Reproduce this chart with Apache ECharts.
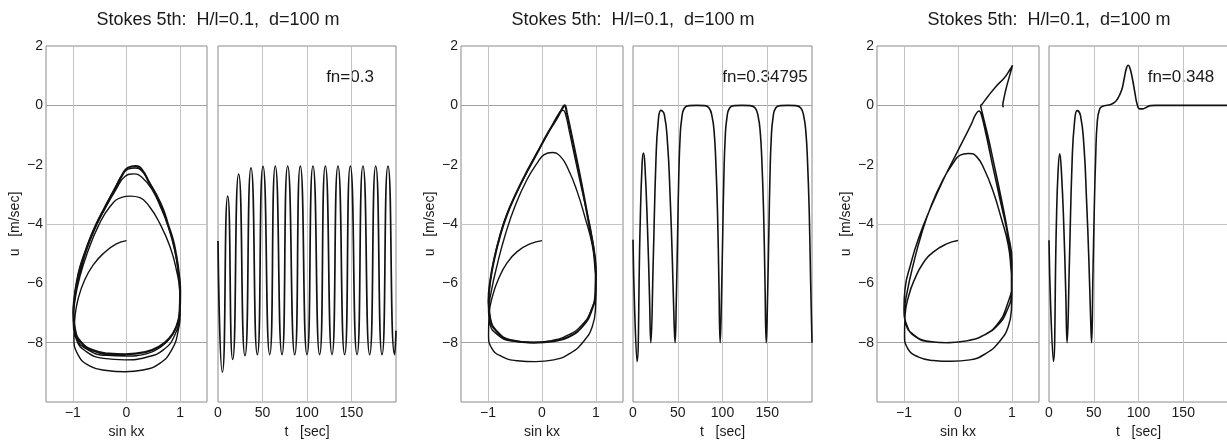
<!DOCTYPE html>
<html><head><meta charset="utf-8">
<script src="https://cdn.jsdelivr.net/npm/echarts@6/dist/echarts.min.js"></script>
<style>html,body{margin:0;padding:0;background:#fff}#c{width:1227px;height:442px}</style>
</head><body><div id="c"></div><script>
// ---------- texts & ticks ----------
const titleText = 'Stokes 5th:  H/l=0.1,  d=100 m';
const fnLabels = ['fn=0.3', 'fn=0.34795', 'fn=0.348'];
const sinTickLabels = [-1, 0, 1];
const uGridValues = [0, -4, -8];
const sinGridValues = [-1, 0, 1];
const tGridValues = [50, 100, 150];

// ---------- panel 1 : fn = 0.3 ----------
const phase1Transient = [[0,-4.56],[-0.19,-4.67],[-0.43,-4.99],[-0.62,-5.38],[-0.78,-5.89],[-0.9,-6.51],[-0.96,-7.12],[-0.98,-7.8],[-0.9,-8.42],[-0.68,-8.79],[-0.37,-8.94],[-0.03,-8.98],[0.31,-8.92],[0.62,-8.7],[0.84,-8.25],[0.96,-7.63],[1.0,-6.9],[0.99,-6.22],[0.93,-5.55],[0.81,-4.76],[0.62,-3.98],[0.43,-3.42],[0.25,-3.11],[0.07,-3.06],[-0.09,-3.1],[-0.31,-3.42],[-0.53,-4.09],[-0.71,-4.88],[-0.87,-5.78],[-0.96,-6.56],[-0.99,-7.24],[-0.93,-7.91],[-0.75,-8.3],[-0.43,-8.53],[-0.03,-8.58],[0.37,-8.49],[0.68,-8.25],[0.9,-7.74],[0.99,-7.01],[1.0,-6.34],[0.97,-5.66],[0.9,-4.9],[0.78,-4.1],[0.64,-3.45],[0.48,-2.85],[0.3,-2.45],[0.14,-2.31],[-0.03,-2.4],[-0.2,-2.85],[-0.42,-3.55],[-0.6,-4.2],[-0.75,-4.9],[-0.88,-5.7],[-0.97,-6.5],[-0.99,-7.2],[-0.93,-7.85],[-0.71,-8.25],[-0.37,-8.43],[0,-8.45],[0.37,-8.38],[0.64,-8.14],[0.82,-7.82],[0.93,-7.45],[0.99,-6.95],[1.0,-6.3],[0.97,-5.62],[0.91,-4.98],[0.85,-4.48],[0.76,-3.98],[0.67,-3.5],[0.54,-2.98],[0.41,-2.55],[0.29,-2.22],[0.16,-2.11],[0.03,-2.15],[-0.1,-2.4],[-0.22,-2.8],[-0.42,-3.5],[-0.6,-4.15],[-0.73,-4.75],[-0.86,-5.45],[-0.93,-6.0],[-0.97,-6.5],[-0.99,-7.0],[-0.96,-7.57],[-0.85,-8.0],[-0.62,-8.28],[-0.33,-8.39],[-0.02,-8.41]];
const phase1Loop = [[-0.02,-8.39],[0.35,-8.32],[0.62,-8.12],[0.8,-7.85],[0.92,-7.5],[0.99,-7.0],[1.0,-6.3],[0.97,-5.6],[0.92,-5.0],[0.86,-4.5],[0.77,-4.0],[0.68,-3.5],[0.55,-3.0],[0.42,-2.6],[0.3,-2.2],[0.17,-2.05],[0.03,-2.1],[-0.08,-2.35],[-0.18,-2.7],[-0.27,-3.0],[-0.42,-3.5],[-0.56,-4.0],[-0.68,-4.5],[-0.78,-5.0],[-0.87,-5.5],[-0.93,-6.0],[-0.97,-6.5],[-0.99,-7.0],[-0.96,-7.55],[-0.85,-7.98],[-0.62,-8.26],[-0.33,-8.37],[-0.02,-8.39]];
const time1 = [[0,-4.57],[4.9,-8.99],[10.9,-3.06],[16.5,-8.56],[23.2,-2.32],[30.3,-8.44],[37.1,-2.11],[44.2,-8.40],[50.6,-2.06],[58.1,-8.40],[64.4,-2.05],[71.9,-8.40],[78.3,-2.05],[86.2,-8.40],[92.5,-2.05],[100,-8.40],[106.7,-2.05],[114.2,-8.40],[120.6,-2.05],[128.1,-8.40],[134.8,-2.05],[142.3,-8.40],[148.7,-2.05],[156.2,-8.40],[162.9,-2.05],[170.4,-8.40],[177.2,-2.05],[184.3,-8.40],[191,-2.05],[198.5,-8.40],[200,-7.6]];

// ---------- panel 2 : fn = 0.34795 ----------
const phase2Transient = [[0,-4.56],[-0.22,-4.67],[-0.46,-4.93],[-0.65,-5.32],[-0.8,-5.83],[-0.91,-6.39],[-0.98,-7.06],[-0.99,-7.74],[-0.93,-8.19],[-0.74,-8.47],[-0.46,-8.61],[-0.12,-8.64],[0.22,-8.58],[0.52,-8.36],[0.77,-7.96],[0.93,-7.46],[0.99,-6.84],[1.0,-6.16],[0.98,-5.49],[0.93,-4.7],[0.8,-3.8],[0.65,-2.9],[0.49,-2.17],[0.34,-1.72],[0.19,-1.59],[0.04,-1.66],[-0.09,-1.95],[-0.28,-2.51],[-0.49,-3.35],[-0.68,-4.36],[-0.83,-5.38],[-0.94,-6.28],[-0.99,-6.95],[-0.96,-7.4],[-0.83,-7.72],[-0.59,-7.94],[-0.22,-8.0],[0.15,-7.94],[0.49,-7.74],[0.74,-7.4],[0.9,-6.95],[0.99,-6.28],[0.99,-5.6],[0.93,-4.48],[0.8,-3.35],[0.65,-2.11],[0.52,-0.99],[0.43,-0.26],[0.39,-0.17],[0.33,-0.22],[0.1,-0.98],[-0.1,-1.62],[-0.31,-2.36],[-0.5,-3.05],[-0.66,-3.72],[-0.78,-4.4],[-0.89,-5.2],[-0.96,-5.95],[-0.99,-6.62],[-0.96,-7.2],[-0.83,-7.64],[-0.59,-7.92],[-0.15,-8.0]];
const phase2Loop = [[-0.15,-8.0],[0.22,-7.95],[0.5,-7.8],[0.75,-7.45],[0.91,-6.95],[0.99,-6.3],[1.0,-5.7],[0.97,-5.0],[0.88,-4.1],[0.77,-3.0],[0.65,-1.9],[0.53,-0.85],[0.46,-0.25],[0.435,-0.03],[0.42,0.0],[0.39,-0.06],[0.28,-0.43],[0.09,-0.99],[-0.09,-1.61],[-0.31,-2.34],[-0.49,-3.01],[-0.65,-3.69],[-0.77,-4.36],[-0.88,-5.15],[-0.96,-5.94],[-0.99,-6.61],[-0.96,-7.18],[-0.83,-7.63],[-0.59,-7.91],[-0.15,-8.0]];
const time2 = [[0,-4.53],[1.9,-6.95],[4.5,-8.64],[7.9,-4.14],[10.2,-1.95],[11.7,-1.61],[13.2,-1.95],[16.2,-4.14],[18.4,-6.39],[19.9,-8.0],[22.6,-5.26],[25.6,-1.89],[28.2,-0.54],[31.2,-0.17],[35.0,-0.31],[38.7,-1.33],[41.4,-3.01],[44.0,-5.26],[45.9,-7.29],[47.0,-8.0],
  [48.5,-6.4],[50.0,-4.1],[51.1,-2.45],[52.6,-1.1],[54.5,-0.43],[57.5,-0.09],[63,-0.01],[71,0],[80,-0.01],[85,-0.09],[88.3,-0.37],[90.6,-0.88],[92.5,-1.89],[94.4,-3.58],[95.9,-5.83],[97.4,-8.0],
  [98.9,-6.4],[100.4,-4.1],[101.5,-2.45],[103.0,-1.1],[104.9,-0.43],[107.9,-0.09],[113.5,-0.01],[122,0],[131,-0.01],[136.5,-0.09],[139.8,-0.37],[142.1,-0.88],[144.0,-1.89],[145.9,-3.58],[147.4,-5.83],[148.9,-8.0],
  [150.4,-6.4],[151.9,-4.1],[153.0,-2.45],[154.5,-1.1],[156.4,-0.43],[159.4,-0.09],[165,-0.01],[173,0],[182,-0.01],[187.5,-0.09],[190.8,-0.37],[193.1,-0.88],[195.0,-1.89],[196.9,-3.58],[198.4,-5.83],[200,-8.0]];

// ---------- panel 3 : fn = 0.348 ----------
const phase3Path = [[0,-4.56],[-0.22,-4.68],[-0.46,-4.95],[-0.65,-5.33],[-0.8,-5.85],[-0.91,-6.4],[-0.98,-7.07],[-0.99,-7.75],[-0.93,-8.2],[-0.74,-8.48],[-0.46,-8.6],[-0.12,-8.63],[0.22,-8.58],[0.52,-8.36],[0.77,-7.96],[0.93,-7.46],[0.99,-6.84],[1.0,-6.16],[0.98,-5.49],[0.93,-4.7],[0.8,-3.8],[0.65,-2.9],[0.49,-2.17],[0.34,-1.72],[0.19,-1.62],[0.04,-1.68],[-0.09,-1.95],[-0.28,-2.51],[-0.49,-3.35],[-0.68,-4.36],[-0.83,-5.38],[-0.94,-6.28],[-0.99,-6.95],[-0.96,-7.4],[-0.83,-7.72],[-0.59,-7.94],[-0.22,-8.0],[0.15,-7.94],[0.49,-7.74],[0.74,-7.4],[0.9,-6.95],[0.99,-6.28],[0.99,-5.6],[0.93,-4.48],[0.8,-3.35],[0.65,-2.11],[0.52,-0.99],[0.43,-0.3],[0.39,-0.19],[0.33,-0.3],[0.24,-0.66],[-0.01,-1.56],[-0.26,-2.46],[-0.51,-3.47],[-0.73,-4.48],[-0.88,-5.38],[-0.98,-6.17],[-1.0,-6.84],[-0.95,-7.4],[-0.79,-7.8],[-0.51,-7.97],[-0.17,-8.0],[0.17,-7.94],[0.49,-7.74],[0.74,-7.35],[0.91,-6.73],[1.0,-5.94],[1.0,-5.27],[0.92,-4.26],[0.8,-3.13],[0.67,-2.01],[0.55,-1.0],[0.46,-0.33],[0.43,-0.1],[0.42,-0.01],[0.44,0.03],[0.55,0.29],[0.7,0.63],[0.86,0.93],[0.96,1.2],[1.01,1.35],[0.95,0.96],[0.89,0.56],[0.85,0.23],[0.83,0.0],[0.84,-0.07]];
const time3 = [[0,-4.55],[1.9,-6.84],[4.9,-8.63],[8.2,-4.04],[10.1,-2.25],[12,-1.63],[13.9,-2.25],[16.5,-4.04],[18.7,-6.28],[20.2,-8.0],[22.8,-5.27],[25.8,-1.91],[28.5,-0.57],[31.5,-0.18],[35.2,-0.35],[39,-1.35],[41.9,-3.15],[44.6,-5.27],[46.4,-7.07],[47.6,-8.0],[49.1,-5.72],[50.6,-3.48],[52.1,-1.8],[53.9,-0.57],[56.6,-0.12],[59.9,-0.03],[66.7,0.01],[72.3,0.08],[76,0.19],[80.9,0.49],[83.9,0.88],[86.5,1.25],[88.5,1.35],[90.5,1.25],[93.3,0.88],[95.9,0.44],[98.5,0.04],[101.5,-0.12],[104.9,-0.12],[108.6,-0.07],[113.5,-0.01],[119,0],[160,0],[200,0]];

// ---------- build chart ----------
const FONT = '"Liberation Sans", Arial, Helvetica, sans-serif';
const TXT = '#1a1a1a';
const LINE = '#121212';
const minus = v => String(v).replace('-', '\u2212');

const panels = [
  {left: 46,   width: 161, kind: 'phase', lines: [[phase1Transient, 1.4, 0.5], [phase1Loop, 2.2, 0.5]]},
  {left: 218,  width: 178, kind: 'time',  lines: [[time1, 1.7, 0.68]]},
  {left: 461,  width: 162, kind: 'phase', lines: [[phase2Transient, 1.4, 0.5], [phase2Loop, 2.1, 0.5]]},
  {left: 633,  width: 179, kind: 'time',  lines: [[time2, 1.6, 0.5]]},
  {left: 877,  width: 162, kind: 'phase', lines: [[phase3Path, 1.5, 0.5]]},
  {left: 1049, width: 179, kind: 'time',  lines: [[time3, 1.6, 0.5]]}
];

const grid = [], xAxis = [], yAxis = [], series = [];
panels.forEach((p, i) => {
  const phase = p.kind === 'phase';
  grid.push({left: p.left, top: 46, width: p.width, height: 356, show: true,
    borderColor: '#8a8a8a', borderWidth: 1, backgroundColor: 'transparent',
    containLabel: false, outerBoundsMode: 'none'});
  xAxis.push({
    gridIndex: i, type: 'value',
    min: phase ? -1.5 : 0, max: phase ? 1.5 : 200, interval: phase ? 0.5 : 50,
    axisLine: {show: false}, axisTick: {show: false}, splitLine: {show: false},
    axisLabel: {
      margin: 4, fontSize: 14, color: TXT, fontFamily: FONT,
      formatter: phase
        ? (v => sinTickLabels.includes(Math.round(v * 1000) / 1000) ? minus(Math.round(v)) : '')
        : (v => v >= 200 ? '' : String(v))
    },
    name: phase ? 'sin kx' : 't   [sec]', nameLocation: 'middle', nameGap: 22,
    nameTextStyle: {fontSize: 14, color: TXT, fontFamily: FONT}
  });
  yAxis.push({
    gridIndex: i, type: 'value', min: -10, max: 2, interval: 2,
    axisLine: {show: false}, axisTick: {show: false}, splitLine: {show: false},
    axisLabel: {show: phase, margin: 3, fontSize: 14, color: TXT, fontFamily: FONT,
      formatter: v => v === -10 ? '' : minus(v)},
    name: phase ? 'u   [m/sec]' : '', nameLocation: 'middle', nameGap: 24, nameRotate: 90,
    nameTextStyle: {fontSize: 14, color: TXT, fontFamily: FONT}
  });
  const gridMarks = uGridValues.map(v => ({yAxis: v, lineStyle: {color: v === -4 ? '#c4c4c4' : '#a0a0a0', width: 1, type: 'solid'}}))
    .concat((phase ? sinGridValues : tGridValues).map(v => ({xAxis: v, lineStyle: {color: '#c4c4c4', width: 1, type: 'solid'}})));
  p.lines.forEach((ln, k) => {
    const s = {
      type: 'line', xAxisIndex: i, yAxisIndex: i, data: ln[0],
      showSymbol: false, symbol: 'none', smooth: ln[2], silent: true, animation: false,
      lineStyle: {color: LINE, width: ln[1]}, z: 3
    };
    if (k === 0) {
      s.markLine = {silent: true, symbol: ['none', 'none'], z: 1, animation: false,
        label: {show: false}, emphasis: {disabled: true}, data: gridMarks};
    }
    series.push(s);
  });
});

const graphic = [];
[218, 633, 1049].forEach(x => {
  graphic.push({type: 'text', x: x, y: 20, silent: true,
    style: {text: titleText, font: '18px ' + FONT, fill: TXT,
      textAlign: 'center', textVerticalAlign: 'middle', align: 'center', verticalAlign: 'middle'}});
});
[218, 633, 1049].forEach((x, i) => {
  graphic.push({type: 'text', x: x + 132, y: 77, silent: true,
    style: {text: fnLabels[i], font: '17px ' + FONT, fill: TXT,
      textAlign: 'center', textVerticalAlign: 'middle', align: 'center', verticalAlign: 'middle'}});
});

const chart = echarts.init(document.getElementById('c'), null, {renderer: 'canvas'});
chart.setOption({
  animation: false, backgroundColor: '#ffffff',
  grid, xAxis, yAxis, series, graphic
});
</script></body></html>
